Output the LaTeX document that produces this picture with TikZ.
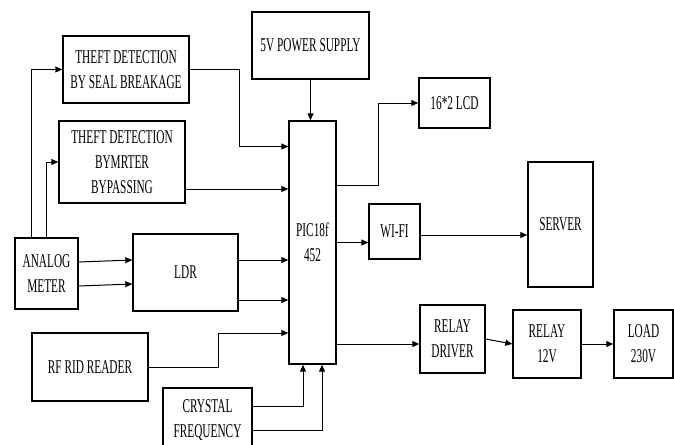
\documentclass[tikz,border=0pt]{standalone}
\usepackage{fontspec}
\setmainfont{Liberation Serif}[FakeStretch=0.58]
\usetikzlibrary{arrows.meta}

\begin{document}
\begin{tikzpicture}[x=1pt,y=-1pt,
  every node/.style={inner sep=0pt},
  blk/.style={draw,line width=1.4pt,align=center,font=\fontsize{19.5}{25}\selectfont},
  wire/.style={line width=1pt,-{Triangle[length=7pt,width=6pt]}}]
\useasboundingbox (0,0) rectangle (674,444);
% blocks
\node[blk,minimum width=126pt,minimum height=67pt] (seal) at (126,69.5) {THEFT DETECTION\\BY SEAL BREAKAGE};
\node[blk,minimum width=126pt,minimum height=82pt] (bypass) at (122,162) {THEFT DETECTION\\BYMRTER\\BYPASSING};
\node[blk,minimum width=117pt,minimum height=67pt] (power) at (310.5,45.5) {5V POWER SUPPLY};
\node[blk,minimum width=47pt,minimum height=243pt] (pic) at (312.5,242.5) {PIC18f\\452};
\node[blk,minimum width=71pt,minimum height=50pt] (lcd) at (454.5,103) {16*2 LCD};
\node[blk,minimum width=63pt,minimum height=71pt] (meter) at (46.5,273.5) {ANALOG\\METER};
\node[blk,minimum width=105pt,minimum height=77pt] (ldr) at (185.5,272.5) {LDR};
\node[blk,minimum width=116pt,minimum height=68pt] (rfid) at (90,367) {RF RID READER};
\node[blk,minimum width=89pt,minimum height=64pt] (crystal) at (207.5,420) {CRYSTAL\\FREQUENCY};
\node[blk,minimum width=51pt,minimum height=55pt] (wifi) at (394.5,231.5) {WI-FI};
\node[blk,minimum width=65pt,minimum height=125pt] (server) at (560.5,224.5) {SERVER};
\node[blk,minimum width=65pt,minimum height=68pt] (driver) at (452.5,339) {RELAY\\DRIVER};
\node[blk,minimum width=68pt,minimum height=68pt] (relay) at (547,344) {RELAY\\12V};
\node[blk,minimum width=59pt,minimum height=68pt] (load) at (643.5,344) {LOAD\\230V};
% inputs
\draw[wire] ([xshift=-15pt]meter.north) |- (seal.west);
\draw[wire] (meter.north) |- (bypass.west);
\draw[wire] (seal.east) -- ++(50,0) |- ([yshift=96pt]pic.west);
\draw[wire] ([yshift=-27pt]bypass.east) -- ([yshift=-27pt]bypass.east -| pic.west);
\draw[wire] (power.south) -- (power.south |- pic.north);
\draw[wire] ([yshift=11.5pt]meter.east) -- ([yshift=12.5pt]ldr.west);
\draw[wire] ([yshift=-12.5pt]meter.east) -- ([yshift=-11.5pt]ldr.west);
\draw[wire] ([yshift=12.5pt]ldr.east) -- ([yshift=12.5pt]ldr.east -| pic.west);
\draw[wire] ([yshift=-27.5pt]ldr.east) -- ([yshift=-27.5pt]ldr.east -| pic.west);
\draw[wire] (rfid.east) -- ++(70,0) |- ([yshift=-90.5pt]pic.west);
\draw[wire] ([yshift=14pt]crystal.east) -| ([xshift=-9.5pt]pic.south);
\draw[wire] ([yshift=-10pt]crystal.east) -| ([xshift=9.5pt]pic.south);
% outputs
\draw[wire] ([yshift=57.5pt]pic.east) -- ++(42,0) |- (lcd.west);
\draw[wire] (pic.east) -- (pic.east -| wifi.west);
\draw[wire] ([yshift=-3.5pt]wifi.east) -- ([yshift=-3.5pt]wifi.east -| server.west);
\draw[wire] ([yshift=-101.5pt]pic.east) -- ([yshift=-101.5pt]pic.east -| driver.west);
\draw[wire] (driver.east) -- (relay.west);
\draw[wire] (relay.east) -- (load.west);
\end{tikzpicture}
\end{document}
